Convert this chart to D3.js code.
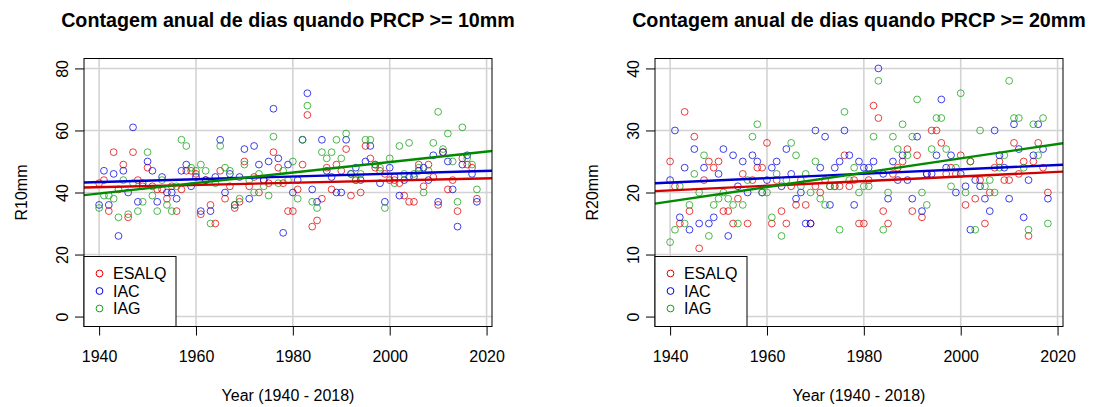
<!DOCTYPE html>
<html>
<head>
<meta charset="utf-8">
<script src="https://cdn.jsdelivr.net/npm/d3@7"></script>
<style>
  body { margin: 0; background: #fff; }
  svg { font-family: "Liberation Sans", Arial, sans-serif; }
</style>
</head>
<body>
<svg id="chart" width="1094" height="407"></svg>
<script>
// anos 1940 - 2018
const years = d3.range(1940, 2019);

const seriesNames = ["ESALQ", "IAC", "IAG"];
const seriesColors = ["#e00000", "#0000e0", "#10a010"];
const lineColors = ["#d00000", "#0000d0", "#008a00"];

// R10mm - dias com PRCP >= 10mm
const r10Esalq = [43, 44, 34, 53, 41, 49, 32, 53, 44, 42, 48, 42, 41, 41, 38, 42, 34, 41, 47, 47,
  46, 33, 44, 36, 30, 47, 38, 42, 35, 37, 50, 42, 45, 40, 44, 43, 53, 48, 43, 34,
  34, 41, 49, 65, 29, 31, 38, 48, 41, 49, 47, 54, 39, 44, 40, 55, 51, 48, 47, 46,
  44, 44, 43, 39, 37, 37, 49, 42, 49, 45, 36, 53, 41, 44, 34, 51, 49, 48, 38];
const r10Iac = [36, 47, 36, 46, 26, 47, 40, 61, 37, 43, 50, 47, 37, 45, 40, 40, 38, 47, 49, 42,
  45, 34, 44, 34, 45, 57, 40, 46, 36, 45, 54, 38, 55, 49, 44, 50, 67, 51, 27, 49,
  40, 44, 57, 72, 41, 37, 57, 47, 45, 40, 40, 57, 46, 48, 44, 50, 55, 49, 43, 37,
  48, 45, 39, 44, 45, 45, 47, 48, 44, 52, 37, 53, 50, 41, 29, 49, 52, 46, 37];
const r10Iag = [35, 39, 39, 38, 32, 44, 33, 43, 34, 37, 53, 39, 34, 44, 36, 34, 42, 57, 55, 48,
  47, 49, 47, 30, 43, 55, 48, 47, 36, 38, 49, 44, 40, 46, 42, 39, 58, 43, 47, 44,
  50, 38, 57, 68, 37, 35, 53, 51, 53, 57, 51, 59, 46, 44, 46, 57, 57, 49, 48, 35,
  51, 43, 55, 46, 56, 46, 48, 40, 47, 56, 66, 54, 59, 50, 37, 61, 51, 49, 41];

// R20mm - dias com PRCP >= 20mm
const r20Esalq = [25, 21, 15, 33, 17, 29, 11, 22, 25, 24, 25, 17, 17, 15, 19, 23, 15, 22, 24, 24,
  28, 15, 22, 17, 15, 21, 18, 22, 18, 15, 21, 20, 22, 21, 21, 21, 26, 21, 22, 15,
  15, 22, 34, 32, 17, 15, 23, 24, 25, 27, 17, 26, 16, 23, 30, 30, 28, 23, 24, 23,
  26, 18, 25, 19, 22, 15, 20, 24, 25, 22, 22, 28, 23, 25, 13, 25, 28, 24, 20];
const r20Iac = [22, 30, 16, 24, 14, 27, 15, 24, 15, 16, 23, 27, 13, 26, 21, 25, 20, 26, 25, 20,
  22, 24, 25, 21, 27, 23, 19, 20, 15, 15, 30, 24, 29, 18, 24, 25, 30, 26, 18, 25,
  24, 24, 25, 40, 23, 19, 25, 22, 26, 22, 19, 29, 17, 23, 23, 26, 35, 24, 26, 20,
  23, 21, 14, 22, 21, 19, 17, 30, 26, 24, 19, 31, 27, 16, 22, 26, 31, 27, 19];
const r20Iag = [12, 14, 21, 15, 18, 23, 20, 26, 13, 18, 19, 20, 19, 18, 15, 18, 22, 29, 31, 20,
  20, 16, 23, 13, 22, 28, 26, 21, 23, 20, 25, 19, 18, 21, 21, 14, 33, 22, 24, 20,
  21, 21, 29, 38, 14, 20, 29, 27, 31, 26, 29, 35, 20, 18, 27, 32, 32, 27, 21, 24,
  36, 20, 25, 14, 30, 21, 22, 20, 24, 26, 38, 32, 32, 24, 14, 31, 26, 32, 15];

const xTicks = [1940, 1960, 1980, 2000, 2020];
const yTicks10 = [0, 20, 40, 60, 80];
const yTicks20 = [0, 10, 20, 30, 40];

const panels = [
  { title: "Contagem anual de dias quando PRCP >= 10mm", ylab: "R10mm",
    series: [r10Esalq, r10Iac, r10Iag], yMax: 80, yTicks: yTicks10, left: 84 },
  { title: "Contagem anual de dias quando PRCP >= 20mm", ylab: "R20mm",
    series: [r20Esalq, r20Iac, r20Iag], yMax: 40, yTicks: yTicks20, left: 655 }
];

const svg = d3.select("#chart");
const plotTop = 58.5, plotBottom = 326.5, plotW = 408;

// regressao linear simples (como abline(lm(y ~ x)))
const fit = (xs, ys) => {
  const mx = d3.mean(xs), my = d3.mean(ys);
  let sxy = 0, sxx = 0;
  xs.forEach((x, i) => { sxy += (x - mx) * (ys[i] - my); sxx += (x - mx) * (x - mx); });
  const b = sxy / sxx;
  return { a: my - b * mx, b: b };
};

// limites estilo R (4% de folga)
const pad = (lo, hi) => [lo - 0.04 * (hi - lo), hi + 0.04 * (hi - lo)];

panels.forEach((p, pi) => {
  const left = p.left, right = left + plotW;
  const x = d3.scaleLinear().domain(pad(d3.min(years), d3.max(years))).range([left, right]);
  const y = d3.scaleLinear().domain(pad(0, p.yMax)).range([plotBottom, plotTop]);
  const g = svg.append("g");

  // grade
  g.append("g").selectAll("line").data(xTicks).join("line")
    .attr("x1", d => x(d)).attr("x2", d => x(d))
    .attr("y1", plotTop).attr("y2", plotBottom)
    .attr("stroke", "#d3d3d3").attr("stroke-width", 1.6);
  g.append("g").selectAll("line").data(p.yTicks).join("line")
    .attr("x1", left).attr("x2", right)
    .attr("y1", d => y(d)).attr("y2", d => y(d))
    .attr("stroke", "#d3d3d3").attr("stroke-width", 1.6);

  const clipId = "clip" + pi;
  svg.append("clipPath").attr("id", clipId).append("rect")
    .attr("x", left).attr("y", plotTop).attr("width", plotW).attr("height", plotBottom - plotTop);

  // pontos
  p.series.forEach((vals, si) => {
    g.append("g").selectAll("circle").data(vals).join("circle")
      .attr("cx", (d, i) => x(years[i]))
      .attr("cy", d => y(d))
      .attr("r", 3.4)
      .attr("fill", "none")
      .attr("stroke", seriesColors[si])
      .attr("stroke-opacity", 0.75)
      .attr("stroke-width", 1);
  });

  // linhas de tendencia
  p.series.forEach((vals, si) => {
    const f = fit(years, vals);
    const [x0, x1] = x.domain();
    g.append("line")
      .attr("clip-path", `url(#${clipId})`)
      .attr("x1", x(x0)).attr("y1", y(f.a + f.b * x0))
      .attr("x2", x(x1)).attr("y2", y(f.a + f.b * x1))
      .attr("stroke", lineColors[si])
      .attr("stroke-width", 2.4);
  });

  // eixos
  const xAxis = g.append("g")
    .attr("transform", `translate(0,${plotBottom})`)
    .call(d3.axisBottom(x).tickValues(xTicks).tickFormat(d3.format("d")).tickSize(9).tickPadding(15).tickSizeOuter(0));
  xAxis.select(".domain").remove();
  xAxis.selectAll("text").attr("font-size", 16).attr("fill", "#000").attr("font-family", null);
  xAxis.selectAll("line").attr("stroke", "#000");

  const yAxis = g.append("g")
    .attr("transform", `translate(${left},0)`)
    .call(d3.axisLeft(y).tickValues(p.yTicks).tickSize(9).tickSizeOuter(0));
  yAxis.select(".domain").remove();
  yAxis.selectAll("line").attr("stroke", "#000");
  yAxis.selectAll("text")
    .attr("font-size", 16).attr("fill", "#000").attr("font-family", null)
    .attr("transform", "rotate(-90)")
    .attr("text-anchor", "middle")
    .attr("x", 0).attr("y", -16).attr("dy", null);

  // caixa
  g.append("rect")
    .attr("x", left).attr("y", plotTop).attr("width", plotW).attr("height", plotBottom - plotTop)
    .attr("fill", "none").attr("stroke", "#000").attr("stroke-width", 1);

  // titulos
  svg.append("text")
    .attr("x", (left + right) / 2).attr("y", 27)
    .attr("text-anchor", "middle")
    .attr("font-size", 19.7).attr("font-weight", "bold")
    .text(p.title);
  svg.append("text")
    .attr("x", (left + right) / 2).attr("y", 401)
    .attr("text-anchor", "middle").attr("font-size", 16)
    .text("Year (1940 - 2018)");
  svg.append("text")
    .attr("transform", `translate(${left - 57},${(plotTop + plotBottom) / 2}) rotate(-90)`)
    .attr("text-anchor", "middle").attr("font-size", 16)
    .text(p.ylab);

  // legenda
  const leg = g.append("g").attr("transform", `translate(${left},${plotBottom - 70})`);
  leg.append("rect").attr("width", 92).attr("height", 70)
    .attr("fill", "#fff").attr("stroke", "#000").attr("stroke-width", 1);
  seriesNames.forEach((name, si) => {
    const row = leg.append("g").attr("transform", `translate(0,${17 + si * 17.5})`);
    row.append("circle").attr("cx", 15.5).attr("cy", 0).attr("r", 3.4)
      .attr("fill", "none").attr("stroke", seriesColors[si]).attr("stroke-width", 1);
    row.append("text").attr("x", 29).attr("y", 5.8).attr("font-size", 16).text(name);
  });
});
</script>
</body>
</html>
